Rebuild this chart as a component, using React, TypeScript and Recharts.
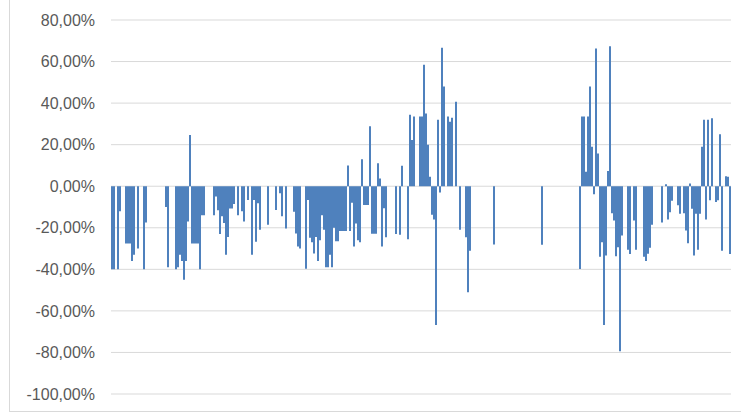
import { BarChart, Bar, XAxis, YAxis, CartesianGrid } from 'recharts';

// values in %, read left to right (each entry ~2px wide in the reference)
const segA = [
  -40, -40, 0, -40, -12, 0, 0, -27.6, -27.6, -27.6,
  -36, -33, 0, -30, 0, 0, -40, -17.5, 0, 0,
  0, 0, 0, 0, 0, 0, 0, -10, -39, 0,
  0, 0, -40, -39, -33, -36, -45, -36, -17, 24.6,
  -27.6, -27.6, -27.6, -27.6, -40, -14, -14, 0, 0, 0,
  0, -14, -5, -11.6, -23, -14.5, -17.7, -33, -24.4, -10.7,
  -10.7, -8.5, 0, -14, 0, -12, -17, 0, -6.6, 0,
  -33, -6.6, -26.7, -8.2, -21, 0, 0, 0,
];

const segB = [
  -18.6, 0, 0, 0, -11.5, 0, -3.4, -14.4, 0, -20.3,
  0, 0, 0, -12.3, -22.7, -29, -30, 0, 0, -39.7,
  -6.6, -24.8, -27, -32.4, -24.4, -36, -26, -14, -21, -39,
  -39, -33, -39, -20, -26.5, -26.5, -21.5, -21.5, -21.5, -21.5,
  10, -21.5, -8, -29, -18, -26, -27, 13, -9, -9,
  -9, 28.9, -22.9, -22.9, -22.9, 11, 3.7, -29, -10.6, -24.5,
  0, 0, 0, 0, -23, 0, -23.4, 9.8, 0, 0,
  -25.5, 34.4, 22.3, 33.5, 0, 0, 33.5,
];

const segC = [
  33.5, 58.5, 35, 20, 4.5, -13.7, -16, -66.8, 32, -3,
  66.6, 48, 0, 33.5, 31, 33, 0, 40.6, 0, -21,
  0, 0, -24.5, -51, -31, 0, 0, 0, 0, 0,
  0, 0, 0, 0, 0, 0, -28, 0, 0, 0,
  0, 0, 0, 0, 0, 0, 0, 0, 0, 0,
  0, 0, 0, 0, 0, 0, 0, 0, 0, 0,
  -28.2, 0, 0, 0, 0, 0, 0, 0, 0, 0,
  0, 0, 0, 0, 0, 0, 0, 0, 0,
];

const segD = [
  -39.8, 33.5, 33.5, 7, 33.5, 48, 19, -3.9, 66.3, 15.8,
  -33.9, -27, -66.8, -33.4, 7.3, 67.4, -13, -16.5, -33.7, -29.4,
  -79.4, -23.7, 0, 0, -30.6, -32.6, 0, -16.5, -30.6, 0,
  0, 0, -34, -36, -32.5, -29.6, -18.5, 0, 0, 0,
  0, -17.4, 0, 1, -16, -12.5, -7, 0, 0, -9.2,
  -13.2, 0, -13, -21.3, -27.4, 1.3, -10.8, -33.4, -13.2, -30.6,
  -13.2, 19, 32, -16, 32, -6.8, 32.7, 0, -7.6, -6.8,
  25, -31, 0, 4.8, 4.5, -32.6,
];

const yTicks = [-100, -80, -60, -40, -20, 0, 20, 40, 60, 80];

const values = [...segA, ...segB, ...segC, ...segD];
const data = values.map((v, i) => ({ idx: i + 1, v }));

const fmtPct = (v: number) => `${v.toFixed(2).replace('.', ',')}%`;

export default function App() {
  return (
    <div style={{ position: 'absolute', left: 0, top: 0, width: 741, height: 419, background: '#fff' }}>
      <div
        style={{
          position: 'absolute',
          left: 9,
          top: -1,
          width: 740,
          height: 411,
          border: '1px solid #D9D9D9',
        }}
      />
      <div style={{ position: 'absolute', left: 0, top: 0 }}>
        <BarChart
          width={741}
          height={419}
          data={data}
          margin={{ top: 20, right: 10, bottom: 25, left: 0 }}
          barCategoryGap={0}
          barGap={0}
        >
          <CartesianGrid vertical={false} stroke="#D9D9D9" strokeWidth={1} />
          <XAxis dataKey="idx" hide />
          <YAxis
            width={111}
            domain={[-100, 80]}
            ticks={yTicks}
            interval={0}
            axisLine={false}
            tickLine={false}
            tickMargin={10}
            tickFormatter={fmtPct}
            tick={{ fill: '#595959', fontSize: 16, fontFamily: 'Liberation Sans, Arial, sans-serif' }}
          />
          <Bar dataKey="v" fill="#4F81BD" isAnimationActive={false} />
        </BarChart>
      </div>
    </div>
  );
}
